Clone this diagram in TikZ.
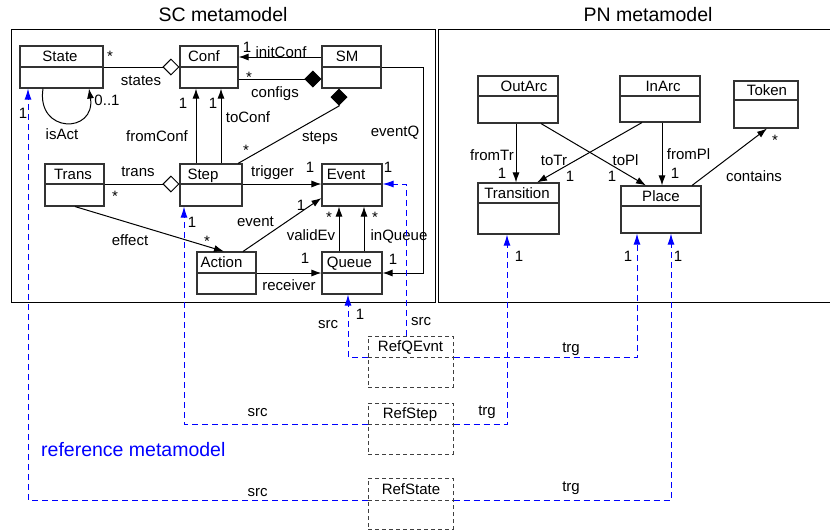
\documentclass[tikz,border=0pt]{standalone}
\usepackage{fontspec}
\setmainfont{Liberation Sans}
\usetikzlibrary{arrows.meta,fit,calc}

\tikzset{
  classbox/.style={draw=black!80, line width=1.1pt, inner sep=0pt},
  refbox/.style={draw=black!75, line width=1pt, dash pattern=on 4pt off 3pt, inner sep=0pt},
  lbl/.style={font=\fontsize{15}{18}\selectfont, inner sep=0pt, text height=10.7pt, text depth=0pt},
  ttl/.style={font=\fontsize{19.5}{23}\selectfont, inner sep=0pt, text height=14pt, text depth=0pt},
  frame/.style={line width=1pt},
  assoc/.style={line width=1pt, -{Latex[length=10pt,width=7pt]}},
  aggr/.style={line width=1pt, -{Diamond[length=17pt,width=17pt,fill=white]}},
  comp/.style={line width=1pt, -{Diamond[length=17pt,width=17pt]}},
  refline/.style={draw=blue, line width=1pt, dash pattern=on 6pt off 4pt},
  refarrow/.style={refline, -{Latex[length=11pt,width=7pt]}},
}

% style, name, left, top, right, bottom, divider, text x, text
\newcommand{\umlclass}[9][classbox]{%
  \node[#1, fit={(#3,#4) (#5,#6)}] (#2) {};
  \draw[#1] (#3,#7) -- (#5,#7);
  \node[lbl] (#2-name) at (#8,{(#4+#7)/2}) {#9};
}

\begin{document}
\begin{tikzpicture}[x=1pt, y=-1pt]
  \useasboundingbox (0,0) rectangle (830,531);

  % Panels
  \node[ttl] (sctitle) at (223,14) {SC metamodel};
  \node[ttl] (pntitle) at (648,14) {PN metamodel};
  \draw[frame] (11,29) rectangle (435,302);
  \draw[frame] (831,29) -- (438.5,29) -- (438.5,302) -- (831,302);

  % SC classes
  \umlclass{state}{20}{46}{103}{88}{67}{60}{State}
  \umlclass{conf}{180}{46}{238}{88}{67}{204}{Conf}
  \umlclass{sm}{322}{46}{381}{88}{67}{347}{SM}
  \umlclass{trans}{45}{164}{104}{206}{184}{73}{Trans}
  \umlclass{step}{180}{164}{242}{206}{184}{203}{Step}
  \umlclass{event}{322}{164}{382}{206}{184}{346}{Event}
  \umlclass{action}{197}{252}{256}{294}{273}{221.5}{Action}
  \umlclass{queue}{322}{252}{382}{294}{273}{349.5}{Queue}

  % PN classes
  \umlclass{outarc}{478}{76}{558}{123}{96}{524}{OutArc}
  \umlclass{inarc}{620}{76}{700}{122}{96}{663}{InArc}
  \umlclass{token}{734}{81}{798}{128}{100}{767}{Token}
  \umlclass{transition}{478}{183}{559}{234}{203}{517}{Transition}
  \umlclass{place}{621}{186}{701}{233}{206}{661}{Place}

  % Reference classes
  \umlclass[refbox]{refqevnt}{368}{336}{453}{387}{357}{410.5}{RefQEvnt}
  \umlclass[refbox]{refstep}{368}{403}{453}{454}{424}{410}{RefStep}
  \umlclass[refbox]{refstate}{368}{478}{453}{529}{500}{411}{RefState}

  % SC associations
  \draw[aggr] (state.east |- 0,67) -- (conf.west |- 0,67);
  \node[lbl] at (110,56) {*};
  \node[lbl] at (141,80) {states};
  \draw[assoc] (sm.west |- 0,57) -- (conf.east |- 0,57);
  \node[lbl] at (247,47) {1};
  \node[lbl] at (281,52) {initConf};
  \draw[comp] (conf.east |- 0,79) -- (sm.west |- 0,79);
  \node[lbl] at (249,77) {*};
  \node[lbl] at (275,92) {configs};
  \draw[comp] (step.north -| 238,0) -- (339,106) -- (sm.south -| 339,0);
  \node[lbl] at (246,150) {*};
  \node[lbl] at (320,136) {steps};
  \draw[assoc] (step.north -| 196,0) -- (conf.south -| 196,0);
  \node[lbl] at (183,103) {1};
  \node[lbl] at (157,136) {fromConf};
  \draw[assoc] (step.north -| 221,0) -- (conf.south -| 221,0);
  \node[lbl] at (213,103) {1};
  \node[lbl] at (248,117) {toConf};
  \draw[assoc] (state.south -| 43,0) .. controls (36,134) and (96,134) .. (state.south -| 89,0);
  \node[lbl] at (107,100) {0..1};
  \node[lbl] at (62,134) {isAct};
  \draw[assoc] (sm.east |- 0,67) -- (423,67) -- (423,273) -- (queue.east |- 0,273);
  \node[lbl] at (395,131) {eventQ};
  \node[lbl] at (393,259) {1};
  \draw[aggr] (trans.east |- 0,184) -- (step.west |- 0,184);
  \node[lbl] at (138,171) {trans};
  \node[lbl] at (115,196) {*};
  \draw[assoc] (step.east |- 0,184) -- (event.west |- 0,184);
  \node[lbl] at (272.5,171) {trigger};
  \node[lbl] at (310,167) {1};
  \draw[assoc] (trans.south -| 75,0) -- (action.north -| 224,0);
  \node[lbl] at (130,240) {effect};
  \node[lbl] at (207,241) {*};
  \draw[assoc] (action.north -| 243,0) -- (event.west |- 0,198);
  \node[lbl] at (255.5,221) {event};
  \node[lbl] at (301,205) {1};
  \draw[assoc] (queue.north -| 339,0) -- (event.south -| 339,0);
  \node[lbl] at (329,217) {*};
  \node[lbl] at (311,235) {validEv};
  \draw[assoc] (queue.north -| 364,0) -- (event.south -| 364,0);
  \node[lbl] at (375,217) {*};
  \node[lbl] at (399,235) {inQueue};
  \draw[assoc] (action.east |- 0,273) -- (queue.west |- 0,273);
  \node[lbl] at (305,258) {1};
  \node[lbl] at (289,285) {receiver};

  % PN associations
  \draw[assoc] (outarc.south -| 516,0) -- (transition.north -| 516,0);
  \node[lbl] at (492,155) {fromTr};
  \node[lbl] at (502,173) {1};
  \draw[assoc] (outarc.south -| 541,0) -- (place.north -| 646,0);
  \node[lbl] at (625.5,160) {toPl};
  \node[lbl] at (612,176) {1};
  \draw[assoc] (inarc.south -| 642,0) -- (transition.north -| 537,0);
  \node[lbl] at (554,160) {toTr};
  \node[lbl] at (570,176) {1};
  \draw[assoc] (inarc.south -| 662,0) -- (place.north -| 662,0);
  \node[lbl] at (688.5,154) {fromPl};
  \node[lbl] at (675,173) {1};
  \draw[assoc] (place.north -| 692,0) -- (token.south -| 767,0);
  \node[lbl] at (754,176) {contains};
  \node[lbl] at (775,140) {*};

  % Reference links
  \draw[refarrow] (refqevnt.west |- 0,357) -- (348,357) -- (queue.south -| 348,0);
  \node[lbl] at (328,323) {src};
  \node[lbl] at (360,314) {1};
  \draw[refarrow] (refqevnt.north -| 406,0) -- (406,184) -- (event.east |- 0,184);
  \node[lbl] at (421,320) {src};
  \node[lbl] at (388,167) {1};
  \draw[refarrow] (refqevnt.east |- 0,357) -- (637,357) -- (place.south -| 637,0);
  \node[lbl] at (571,347) {trg};
  \node[lbl] at (628,256) {1};
  \draw[refarrow] (refstep.west |- 0,424) -- (184,424) -- (step.south -| 184,0);
  \node[lbl] at (257.5,411) {src};
  \node[lbl] at (192,222) {1};
  \draw[refarrow] (refstep.east |- 0,424) -- (507,424) -- (transition.south -| 507,0);
  \node[lbl] at (487,410) {trg};
  \node[lbl] at (519,256) {1};
  \draw[refarrow] (refstate.west |- 0,500) -- (28,500) -- (state.south -| 28,0);
  \node[lbl] at (257.5,491) {src};
  \node[lbl] at (23,113) {1};
  \draw[refarrow] (refstate.east |- 0,500) -- (671,500) -- (place.south -| 671,0);
  \node[lbl] at (571,486) {trg};
  \node[lbl] at (678,256) {1};
  \node[lbl, text=blue, font=\fontsize{19.5}{23}\selectfont, anchor=west] (reftitle) at (41,451) {reference metamodel};
\end{tikzpicture}
\end{document}
